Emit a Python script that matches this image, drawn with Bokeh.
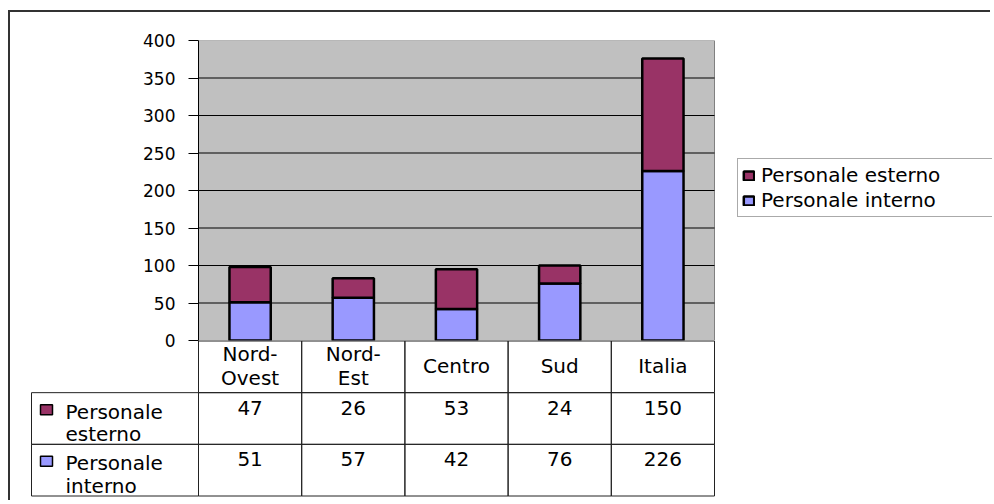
from bokeh.plotting import figure
from bokeh.models import ColumnDataSource, Range1d, FixedTicker, Legend, LegendItem
from bokeh.layouts import column
from bokeh.core.properties import value
from bokeh.embed import file_html
from bokeh.resources import INLINE

# ---------------- data ----------------
categories = ["Nord-Ovest", "Nord-Est", "Centro", "Sud", "Italia"]
esterno = [47, 26, 53, 24, 150]
interno = [51, 57, 42, 76, 226]
series_names = ["Personale esterno", "Personale interno"]
y_ticks = [0, 50, 100, 150, 200, 250, 300, 350, 400]

# ---------------- style ----------------
COL_EST = "#993366"
COL_INT = "#9999FF"
FONT = "DejaVu Sans"
TXT = "20px"

# layout constants (page pixels)
W = 982
content_x, content_y = 10, 12
plot_left, plot_right, plot_top, plot_bottom = 198, 714, 40, 340
table_left, table_bottom = 31, 495
legend_left, legend_bottom = 737, 217
page_bottom = 502
overlap = 12
n = len(categories)
U = (plot_right - plot_left) / n          # px per category
R = (table_bottom - plot_bottom) / 3.0    # px per table row
idx = list(range(n))
xc = [i + 0.5 for i in idx]               # category centres on the shared scale

# ---------------- chart ----------------
frame_right = content_x + W
p = figure(width=W, height=plot_bottom - content_y + overlap,
           x_range=Range1d(0, (frame_right - plot_left) / U),
           y_range=Range1d(y_ticks[0], y_ticks[-1]),
           x_axis_location=None, output_backend="svg", toolbar_location=None,
           min_border_left=plot_left - content_x, min_border_right=0,
           min_border_top=plot_top - content_y, min_border_bottom=overlap)
p.background_fill_color = "white"
p.border_fill_color = "white"
p.outline_line_color = None
p.grid.visible = False

ax = p.yaxis[0]
ax.ticker = FixedTicker(ticks=y_ticks)
ax.axis_line_color = "black"
ax.major_tick_line_color = "black"
ax.major_tick_out = 10
ax.major_tick_in = 0
ax.minor_tick_line_color = None
ax.major_label_standoff = 13
ax.major_label_text_font = FONT
ax.major_label_text_font_size = "17px"
ax.major_label_text_color = "black"

# plot area (grey) spanning the categories, with the value grid lines
p.quad(left=[0], right=[n], bottom=[y_ticks[0]], top=[y_ticks[-1]],
       fill_color="#C0C0C0", line_color="#808080", line_width=1)
grid_y = y_ticks[1:-1]
p.segment(x0=[0] * len(grid_y), x1=[n] * len(grid_y), y0=grid_y, y1=grid_y,
          line_color="black", line_width=1)

src = ColumnDataSource(dict(x=xc, cat=categories, interno=interno, esterno=esterno))
rs = p.vbar_stack(["interno", "esterno"], x="x", width=0.4, source=src,
                  fill_color=[COL_INT, COL_EST], line_color="black", line_width=2.5)

legend = Legend(items=[LegendItem(label=series_names[0], renderers=[rs[1]]),
                       LegendItem(label=series_names[1], renderers=[rs[0]])],
                location=(legend_left - plot_left, plot_bottom - legend_bottom),
                padding=4, spacing=1, margin=0,
                glyph_width=13, glyph_height=11, label_standoff=6,
                label_width=232, label_height=20,
                label_text_font=FONT, label_text_font_size=TXT,
                label_text_color="black",
                border_line_color="#555555", border_line_width=1,
                background_fill_color="white", background_fill_alpha=1)
p.add_layout(legend)

# ---------------- data table ----------------
t_frame_left = table_left - 1
t_frame_right = plot_right + 1
t = figure(width=W, height=page_bottom - plot_bottom,
           x_range=Range1d(-(plot_left - t_frame_left) / U, n + 1 / U),
           y_range=Range1d(-(page_bottom - table_bottom - 0.5) / R, 3 + 0.5 / R),
           x_axis_location=None, y_axis_location=None,
           output_backend="svg", toolbar_location=None,
           min_border_left=t_frame_left - content_x,
           min_border_right=W - (t_frame_right - content_x),
           min_border_top=0, min_border_bottom=0,
           margin=(-overlap, 0, 0, 0))
t.grid.visible = False
t.outline_line_color = None
t.background_fill_color = None
t.border_fill_color = None

for fig in (p, t):
    try:
        fig.frame_align = False
    except Exception:
        pass

left_col = -(plot_left - table_left) / U
LINE = "#222222"
# header cells (category names)
t.quad(left=idx, right=[i + 1 for i in idx], bottom=[2] * n, top=[3] * n,
       fill_color=None, line_color=LINE, line_width=1)
# value rows (row label column + one cell per category)
for row_bottom in (1, 0):
    t.quad(left=[left_col] + idx, right=[0] + [i + 1 for i in idx],
           bottom=[row_bottom] * (n + 1), top=[row_bottom + 1] * (n + 1),
           fill_color=None, line_color=LINE, line_width=1)

header_labels = [c.replace("-", "-\n") for c in categories]
t.text(x=xc, y=[2.5] * n, text=header_labels,
       text_align="center", text_baseline="middle", y_offset=-1,
       text_font=value(FONT), text_font_size=TXT, text_line_height=1.0,
       text_color="black")

for vals, row_top in ((esterno, 2), (interno, 1)):
    t.text(x=xc, y=[row_top] * n, text=[str(v) for v in vals],
           text_align="center", text_baseline="top", y_offset=8,
           text_font=value(FONT), text_font_size=TXT, text_color="black")

row_labels = [s.replace(" ", "\n") for s in series_names]
t.text(x=[left_col + 34 / U] * 2, y=[2, 1], text=row_labels,
       text_align="left", text_baseline="top", y_offset=7,
       text_font=value(FONT), text_font_size=TXT, text_line_height=0.95,
       text_color="black")
t.rect(x=[left_col + 15 / U] * 2, y=[2 - 17 / R, 1 - 17 / R], width=12, height=10,
       width_units="screen", height_units="screen",
       fill_color=[COL_EST, COL_INT], line_color="black", line_width=1.5)

layout = column(p, t, spacing=0, margin=(content_y, 0, 0, content_x),
                styles={"box-shadow": "-2px -2px 0 0 #333333"})

open("out.html", "w").write(file_html(layout, INLINE))
